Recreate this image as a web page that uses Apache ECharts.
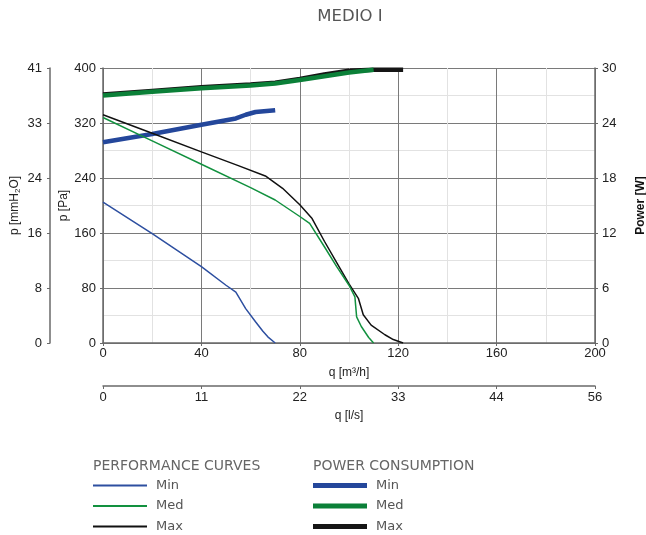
<!DOCTYPE html>
<html>
<head>
<meta charset="utf-8">
<script src="https://cdn.jsdelivr.net/npm/echarts@6/dist/echarts.min.js"></script>
<style>html,body{margin:0;padding:0;background:#fff}#c{width:646px;height:535px}</style>
</head>
<body>
<div id="c"></div>
<script>
// ---- data ----
const titleText = 'MEDIO I';
const mmLabels = ['0', '8', '16', '24', '33', '41'];
const lsLabels = ['0', '11', '22', '33', '44', '56'];
const perfMin = [[0,205],[20,159],[40,111],[50,84],[54,74],[58,50],[62,31],[65,17],[67,9],[70,0]];
const perfMed = [[0,328],[20,294],[40,260],[60,226],[70,208],[80,184],[84,174],[90,140],[95,111],[100,84],[102.4,67],[103.1,38],[105,24],[108,8],[110,0]];
const perfMax = [[0,332],[20,305],[40,278],[55,258],[66,243],[73,225],[80,201],[85,181],[90,148],[95,117],[100,86],[103.8,65],[105.8,41],[109,26],[114.6,12],[118,5],[122,0]];
const powMin = [[0,21.9],[20,22.8],[40,23.8],[54,24.5],[58,24.9],[62,25.2],[70,25.4]];
const powMed = [[0,27.0],[20,27.4],[40,27.8],[60,28.1],[70,28.3],[80,28.7],[90,29.1],[100,29.5],[110,29.8]];
const powMax = [[0,27.1],[20,27.5],[40,27.9],[60,28.2],[70,28.4],[80,28.8],[90,29.3],[100,29.7],[110,29.8],[122,29.8]];

const C_BLUE = '#2d4fa0', C_GREEN = '#12913f', C_BLACK = '#111111';
const P_BLUE = '#24479b', P_GREEN = '#0b8038', P_BLACK = '#151515';
const FONT = 'Liberation Sans';
const LFONT = 'DejaVu Sans';

const chart = echarts.init(document.getElementById('c'));
const lbl = {color: '#222', fontSize: 13, fontFamily: FONT};
const gridLine = {show: true, lineStyle: {color: '#7a7a7a', width: 1}};
const minorLine = {show: true, lineStyle: {color: '#e2e2e2', width: 1}};
const axLine = {show: true, onZero: false, lineStyle: {color: '#6a6a6a', width: 1.5}};
const tick = {show: true, length: 3, lineStyle: {color: '#6a6a6a'}};
const legText = {fontFamily: LFONT, fontSize: 13, color: '#555', lineHeight: 17, padding: [0,0,0,4]};

chart.setOption({
  animation: false,
  grid: {left: 103, right: 51, top: 68, bottom: 192, containLabel: false, outerBoundsMode: 'none'},
  legend: [
    {data: ['Min', 'Med', 'Max'], left: 93, top: 477, padding: 0, orient: 'vertical', icon: 'rect',
      itemWidth: 54, itemHeight: 2, itemGap: 3.5, selectedMode: false, textStyle: legText,
      formatter: n => n.trim()},
    {data: ['Min ', 'Med ', 'Max '], left: 313, top: 477, padding: 0, orient: 'vertical', icon: 'rect',
      itemWidth: 54, itemHeight: 5, itemGap: 3.5, selectedMode: false, textStyle: legText,
      formatter: n => n.trim()}
  ],
  graphic: [
    {type: 'text', x: 350, y: 17, style: {text: titleText, fontFamily: LFONT, fontSize: 16.5, fill: '#555', align: 'center', verticalAlign: 'middle'}},
    {type: 'text', x: 93, y: 466, style: {text: 'PERFORMANCE CURVES', fontFamily: LFONT, fontSize: 14, fill: '#666', verticalAlign: 'middle'}},
    {type: 'text', x: 313, y: 466, style: {text: 'POWER CONSUMPTION', fontFamily: LFONT, fontSize: 14, fill: '#666', verticalAlign: 'middle'}}
  ],
  xAxis: [
    {type: 'value', min: 0, max: 200, interval: 40, position: 'bottom',
      name: 'q [m³/h]', nameLocation: 'middle', nameGap: 24, nameMoveOverlap: false,
      nameTextStyle: {color: '#222', fontSize: 12, fontFamily: FONT},
      axisLine: axLine, axisTick: tick,
      axisLabel: Object.assign({margin: 4}, lbl),
      splitLine: gridLine, minorTick: {show: false, splitNumber: 2}, minorSplitLine: minorLine},
    {type: 'value', min: 0, max: 200, interval: 40, position: 'bottom', offset: 43,
      name: 'q [l/s]', nameLocation: 'middle', nameGap: 24, nameMoveOverlap: false,
      nameTextStyle: {color: '#222', fontSize: 12, fontFamily: FONT},
      axisLine: axLine, axisTick: tick,
      axisLabel: Object.assign({margin: 5, formatter: v => lsLabels[Math.round(v / 40)]}, lbl),
      splitLine: {show: false}}
  ],
  yAxis: [
    {type: 'value', min: 0, max: 400, interval: 80, position: 'left',
      name: 'p [Pa]', nameLocation: 'middle', nameGap: 33, nameRotate: 90, nameMoveOverlap: false,
      nameTextStyle: {color: '#222', fontSize: 12, fontFamily: FONT},
      axisLine: axLine, axisTick: tick,
      axisLabel: Object.assign({margin: 7}, lbl),
      splitLine: gridLine, minorTick: {show: false, splitNumber: 2}, minorSplitLine: minorLine},
    {type: 'value', min: 0, max: 400, interval: 80, position: 'left', offset: 53,
      name: '{a|p [mmH}{s|2}{a|O]}', nameLocation: 'middle', nameGap: 28, nameRotate: 90, nameMoveOverlap: false,
      nameTextStyle: {color: '#222', fontSize: 12, fontFamily: FONT,
        rich: {a: {fontSize: 12, fontFamily: FONT, color: '#222'},
               s: {fontSize: 8, fontFamily: FONT, color: '#222', verticalAlign: 'bottom', padding: [6,0,0,0]}}},
      axisLine: axLine, axisTick: tick,
      axisLabel: Object.assign({margin: 8, formatter: v => mmLabels[Math.round(v / 80)]}, lbl),
      splitLine: {show: false}},
    {type: 'value', min: 0, max: 30, interval: 6, position: 'right',
      name: 'Power [W]', nameLocation: 'middle', nameGap: 40, nameRotate: 90, nameMoveOverlap: false,
      nameTextStyle: {color: '#111', fontSize: 12, fontFamily: FONT, fontWeight: 'bold'},
      axisLine: axLine, axisTick: tick,
      axisLabel: Object.assign({margin: 7}, lbl),
      splitLine: {show: false}}
  ],
  series: [
    {name: 'Max ', type: 'line', xAxisIndex: 0, yAxisIndex: 2, data: powMax, showSymbol: false, symbol: 'none',
      lineStyle: {color: P_BLACK, width: 4.5}, itemStyle: {color: P_BLACK}, z: 3},
    {name: 'Med ', type: 'line', xAxisIndex: 0, yAxisIndex: 2, data: powMed, showSymbol: false, symbol: 'none',
      lineStyle: {color: P_GREEN, width: 4.5}, itemStyle: {color: P_GREEN}, z: 4},
    {name: 'Min ', type: 'line', xAxisIndex: 0, yAxisIndex: 2, data: powMin, showSymbol: false, symbol: 'none',
      lineStyle: {color: P_BLUE, width: 4.5}, itemStyle: {color: P_BLUE}, z: 4},
    {name: 'Max', type: 'line', xAxisIndex: 0, yAxisIndex: 0, data: perfMax, showSymbol: false, symbol: 'none',
      lineStyle: {color: C_BLACK, width: 1.5}, itemStyle: {color: C_BLACK}, z: 5},
    {name: 'Med', type: 'line', xAxisIndex: 0, yAxisIndex: 0, data: perfMed, showSymbol: false, symbol: 'none',
      lineStyle: {color: C_GREEN, width: 1.5}, itemStyle: {color: C_GREEN}, z: 5},
    {name: 'Min', type: 'line', xAxisIndex: 0, yAxisIndex: 0, data: perfMin, showSymbol: false, symbol: 'none',
      lineStyle: {color: C_BLUE, width: 1.5}, itemStyle: {color: C_BLUE}, z: 5}
  ]
});
</script>
</body>
</html>
